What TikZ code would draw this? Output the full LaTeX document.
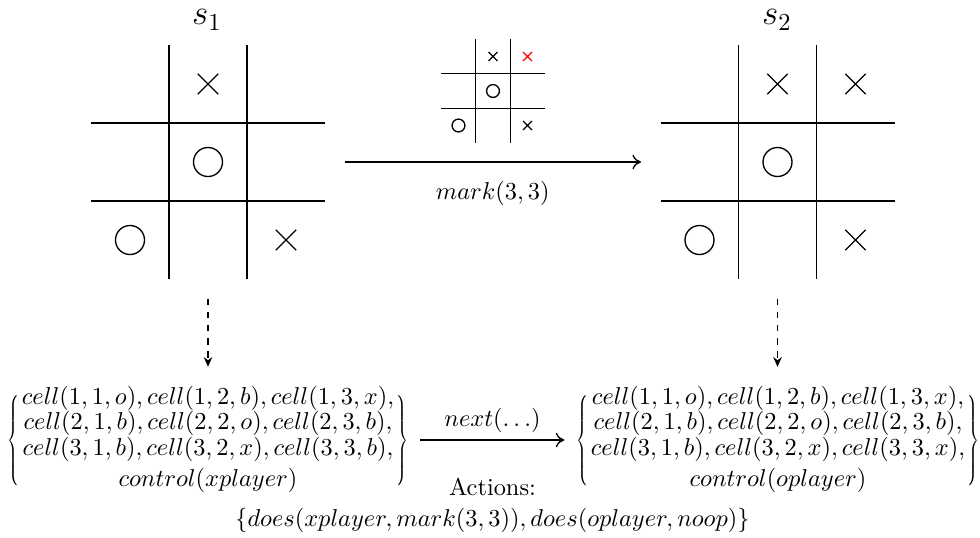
\documentclass[tikz,border=0pt]{standalone}
\usepackage{graphicx}
\usetikzlibrary{arrows.meta}
\newcommand{\setrows}[2]{\begin{array}{c}
cell(1,1,o), cell(1,2,b), cell(1,3,x),\\
cell(2,1,b), cell(2,2,o), cell(2,3,b),\\
cell(3,1,b), cell(3,2,x), cell(3,3,#1),\\[2.5pt]
control(#2)
\end{array}}
\newcommand{\thinlbrace}{\scalebox{0.55}[0.88]{$\left\{\vphantom{\setrows{b}{xplayer}}\right.\kern-\nulldelimiterspace$}}
\newcommand{\thinrbrace}{\scalebox{0.55}[0.88]{$\kern-\nulldelimiterspace\left.\vphantom{\setrows{b}{xplayer}}\right\}$}}
\begin{document}
\begin{tikzpicture}[x=0.41pt,y=-0.41pt,
  gridline/.style={line width=0.55pt},
  markline/.style={line width=0.55pt},
  conn/.style={line width=0.55pt,-{To[length=3.5pt,width=6pt]}},
  dconn/.style={line width=0.5pt,dash pattern=on 2.7pt off 2.7pt,-{Stealth[length=4pt,width=3.5pt]}},
  boardbox/.style={inner sep=0pt,outer sep=0pt,minimum width=111.93pt,minimum height=111.93pt},
  setnode/.style={inner sep=0pt,outer sep=0pt},
  lbl/.style={inner sep=0pt},
  xm/.pic={\draw[markline,pic actions] (-0.13,-0.13)--(0.13,0.13) (-0.13,0.13)--(0.13,-0.13);},
  om/.pic={\draw[markline] (0,0) circle[radius=0.186];},
  gridpic/.pic={\draw[gridline] (-0.5,-1.5)--(-0.5,1.5) (0.5,-1.5)--(0.5,1.5) (-1.5,-0.5)--(1.5,-0.5) (-1.5,0.5)--(1.5,0.5);}
]
\useasboundingbox (0,0) rectangle (980,537);
\renewcommand{\arraystretch}{0.8}
\setlength{\arraycolsep}{1pt}

% board s1
\begin{scope}[shift={(208,162)},x=31.98pt,y=-31.98pt]
  \pic {gridpic};
  \pic at (0,-1) {xm};
  \pic at (0,0) {om};
  \pic at (-1,1) {om};
  \pic at (1,1) {xm};
\end{scope}
% board s2
\begin{scope}[shift={(777.5,162)},x=31.98pt,y=-31.98pt]
  \pic {gridpic};
  \pic at (0,-1) {xm};
  \pic at (1,-1) {xm};
  \pic at (0,0) {om};
  \pic at (-1,1) {om};
  \pic at (1,1) {xm};
\end{scope}
% small move board
\begin{scope}[shift={(493,91)},x=14.15pt,y=-14.15pt]
  \pic {gridpic};
  \pic at (0,-1) {xm};
  \pic[red] at (1,-1) {xm};
  \pic at (0,0) {om};
  \pic at (-1,1) {om};
  \pic at (1,1) {xm};
\end{scope}

\node[boardbox] (b1) at (208,162) {};
\node[boardbox] (b2) at (777.5,162) {};
\node[lbl] (s1) at (207,20) {\Large $s_1$};
\node[lbl] (s2) at (777,20) {\Large $s_2$};

\draw[conn] (b1.east) -- node[midway,yshift=-12.7pt] (mv) {$mark(3,3)$} (b2.west);

\node[setnode] (L) at (208,440) {$\thinlbrace\setrows{b}{xplayer}\thinrbrace$};
\node[setnode] (R) at (778,440) {$\thinlbrace\setrows{x}{oplayer}\thinrbrace$};

\draw[dconn] (b1.south) -- ([yshift=8pt]b1.south |- L.north);
\draw[dconn] (b2.south) -- ([yshift=8pt]b2.south |- R.north);

\draw[conn,shorten <=4.9pt,shorten >=5pt] (L.east) -- node[midway,lbl,yshift=8.2pt] (nx) {$next(\ldots)$}
  node[midway,lbl,yshift=-19.3pt] (act) {Actions:}
  node[midway,lbl,yshift=-32.8pt] (acts) {$\{does(xplayer, mark(3,3)), does(oplayer, noop)\}$}
  (R.west);
\end{tikzpicture}
\end{document}
